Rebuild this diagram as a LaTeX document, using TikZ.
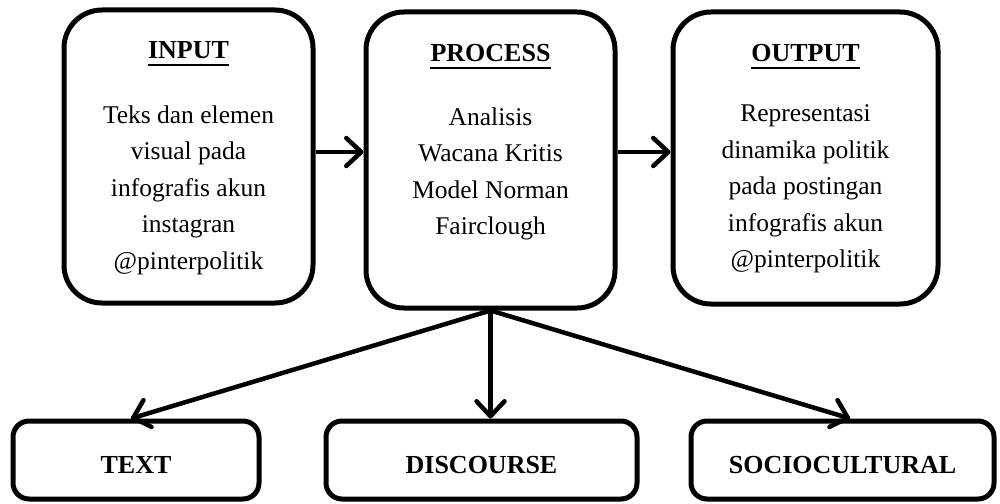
\documentclass[tikz,border=0pt]{standalone}
\usepackage{fontspec}
\setmainfont{Liberation Serif}
\usetikzlibrary{arrows.meta}
\begin{document}
\begin{tikzpicture}[x=1pt,y=-1pt,
  bigbox/.style={draw, line width=5pt, rounded corners=38pt, inner sep=0pt},
  smallbox/.style={draw, line width=5pt, rounded corners=16pt, inner sep=0pt, minimum height=78pt},
  ttl/.style={font=\fontsize{26}{30}\selectfont\bfseries, inner sep=0pt, anchor=base},
  bodytext/.style={font=\fontsize{25.5}{36.5}\selectfont, align=center, inner sep=0pt},
  lbl/.style={font=\fontsize{26}{30}\selectfont\bfseries, inner sep=0pt, anchor=base},
  uline/.style={line width=2.5pt},
  conn/.style={line width=4.5pt, -{Straight Barb[length=15pt,width=28pt,line width=4.5pt,round]}}
]
\fill[white] (0,0) rectangle (1000,503);
\useasboundingbox (0,0) rectangle (1000,503);

% top boxes
\node[bigbox, minimum width=249pt, minimum height=293pt] (in) at (188.5,156.5) {};
\node[bigbox, minimum width=249pt, minimum height=296pt] (proc) at (490.5,160) {};
\node[bigbox, minimum width=265pt, minimum height=292pt] (out) at (805.5,158) {};

% titles
\node[ttl] (tin) at (188.5,59) {INPUT};
\node[ttl] (tproc) at (490.5,62) {PROCESS};
\node[ttl] (tout) at (805.5,62) {OUTPUT};
\draw[uline] ([yshift=-6pt]tin.base west) -- ([yshift=-6pt]tin.base east);
\draw[uline] ([yshift=-6pt]tproc.base west) -- ([yshift=-6pt]tproc.base east);
\draw[uline] ([yshift=-6pt]tout.base west) -- ([yshift=-6pt]tout.base east);

% body texts
\node[bodytext] (bin) at (188.5,190) {Teks dan elemen\\visual pada\\infografis akun\\instagran\\@pinterpolitik};
\node[bodytext] (bproc) at (490.5,174) {Analisis\\Wacana Kritis\\Model Norman\\Fairclough};
\node[bodytext] (bout) at (805.5,189) {Representasi\\dinamika politik\\pada postingan\\infografis akun\\@pinterpolitik};

% bottom boxes
\node[smallbox, minimum width=246pt] (txt) at (136,460) {};
\node[smallbox, minimum width=311pt] (disc) at (481.5,460) {};
\node[smallbox, minimum width=303pt] (soc) at (842.5,460) {};
\node[lbl] (ltxt) at (136,473) {TEXT};
\node[lbl] (ldisc) at (481.5,473) {DISCOURSE};
\node[lbl] (lsoc) at (842.5,473) {SOCIOCULTURAL};

% connectors
\draw[conn] ([yshift=4.5pt]in.east) -- ([yshift=4.5pt]in.east -| proc.west);
\draw[conn] ([yshift=8pt]proc.east) -- ([yshift=8pt]proc.east -| out.west);
\draw[conn] (proc.south) -- ([xshift=-5pt]txt.north);
\draw[conn] (proc.south) -- (disc.north -| proc.south);
\draw[conn] (proc.south) -- ([xshift=7.5pt]soc.north);
\end{tikzpicture}
\end{document}
